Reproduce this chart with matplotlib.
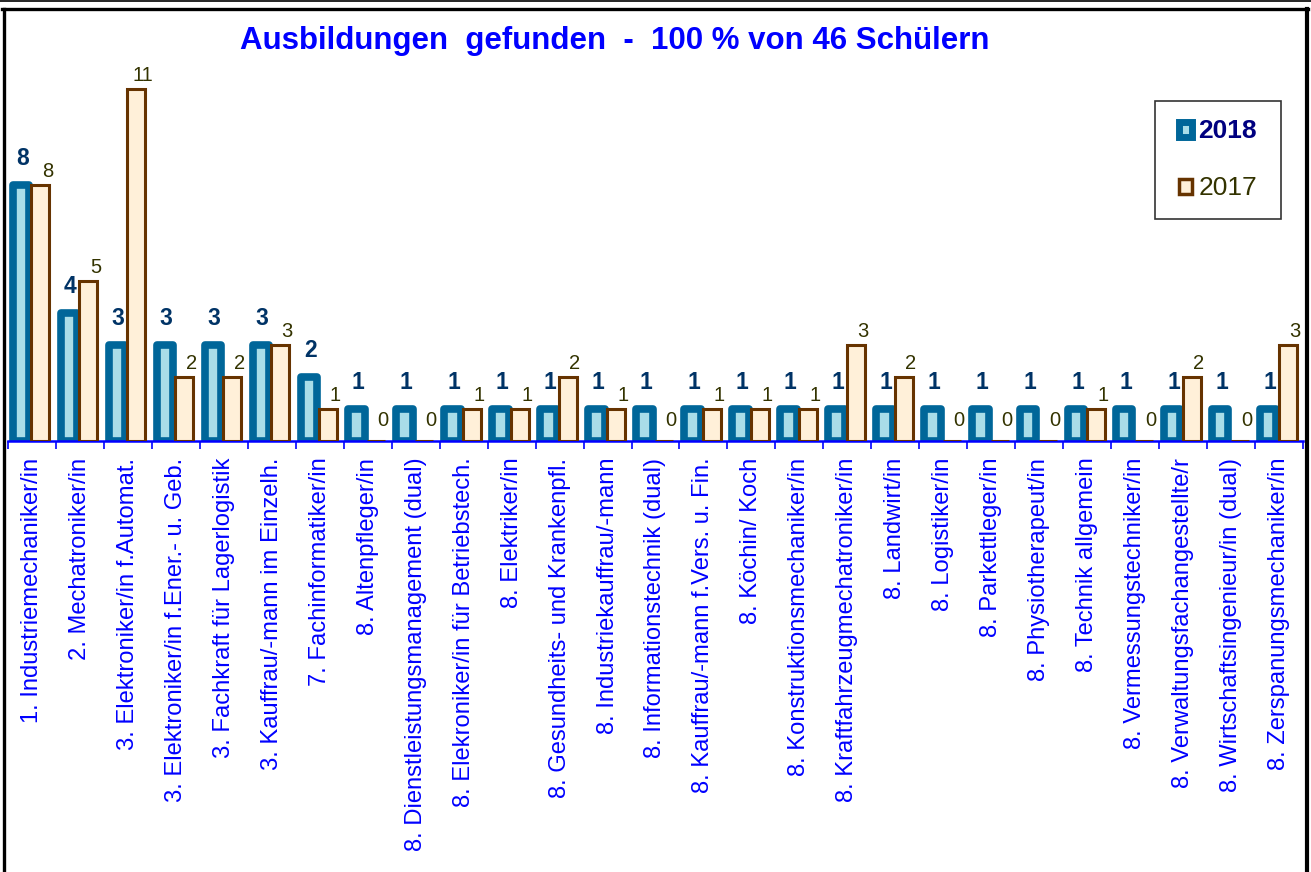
import matplotlib
matplotlib.use("Agg")
import matplotlib.pyplot as plt
from matplotlib.patches import Rectangle
from matplotlib.lines import Line2D
import numpy as np

plt.rcParams['font.family'] = ['Liberation Sans', 'DejaVu Sans']

categories = [
    "1. Industriemechaniker/in",
    "2. Mechatroniker/in",
    "3. Elektroniker/in f.Automat.",
    "3. Elektroniker/in f.Ener.- u. Geb.",
    "3. Fachkraft für Lagerlogistik",
    "3. Kauffrau/-mann im Einzelh.",
    "7. Fachinformatiker/in",
    "8. Altenpfleger/in",
    "8. Dienstleistungsmanagement (dual)",
    "8. Elekroniker/in für Betriebstech.",
    "8. Elektriker/in",
    "8. Gesundheits- und Krankenpfl.",
    "8. Industriekauffrau/-mann",
    "8. Informationstechnik (dual)",
    "8. Kauffrau/-mann f.Vers. u. Fin.",
    "8. Köchin/ Koch",
    "8. Konstruktionsmechaniker/in",
    "8. Kraftfahrzeugmechatroniker/in",
    "8. Landwirt/in",
    "8. Logistiker/in",
    "8. Parkettleger/in",
    "8. Physiotherapeut/in",
    "8. Technik allgemein",
    "8. Vermessungstechniker/in",
    "8. Verwaltungsfachangestellte/r",
    "8. Wirtschaftsingenieur/in (dual)",
    "8. Zerspanungsmechaniker/in",
]
values_2018 = [8, 4, 3, 3, 3, 3, 2, 1, 1, 1, 1, 1, 1, 1, 1, 1, 1, 1, 1, 1, 1, 1, 1, 1, 1, 1, 1]
values_2017 = [8, 5, 11, 2, 2, 3, 1, 0, 0, 1, 1, 2, 1, 0, 1, 1, 1, 3, 2, 0, 0, 0, 1, 0, 2, 0, 3]
title = "Ausbildungen  gefunden  -  100 % von 46 Schülern"
series_names = ["2018", "2017"]

W, H = 1311, 872
fig = plt.figure(figsize=(W / 100, H / 100), dpi=100)
fig.patch.set_facecolor('white')

ymax = 11.6
ax = fig.add_axes([8 / W, 1 - 441 / H, (1303 - 8) / W, (371) / H])
ax.set_xlim(-0.5, len(categories) - 0.5)
ax.set_ylim(0, ymax)

x = np.arange(len(categories))
c18_edge = '#006699'
c18_face = '#a9dde8'
c17_edge = '#663300'
c17_face = '#fff0d9'

off18, w18 = -0.229, 0.345
off17, w17 = 0.177, 0.375

ax.bar(x + off18, values_2018, width=w18, facecolor=c18_face, edgecolor=c18_edge,
       linewidth=5.5, joinstyle='round', zorder=2)
ax.bar(x + off17, values_2017, width=w17, facecolor=c17_face, edgecolor=c17_edge,
       linewidth=2.2, zorder=3)

for xi, v in zip(x, values_2018):
    ax.annotate(str(v), (xi + off18, v), xytext=(1, 11), textcoords='offset points',
                ha='center', va='bottom', fontsize=16.5, fontweight='bold', color='#003366', zorder=5)
for xi, v in zip(x, values_2017):
    dy = 3 if v > 0 else 8
    ax.annotate(str(v), (xi + off17, v), xytext=(5, dy), textcoords='offset points',
                ha='center', va='bottom', fontsize=14.5, color='#333300', zorder=5)

for s in ['top', 'right', 'left']:
    ax.spines[s].set_visible(False)
ax.spines['bottom'].set_color('#0000ff')
ax.spines['bottom'].set_linewidth(1.8)
ax.set_yticks([])
ax.set_xticks(x)
ax.set_xticklabels(categories, rotation=90, fontsize=17.1, color='#0000ff', va='top', ha='center')
ax.tick_params(axis='x', which='major', length=0, pad=12)
ax.set_xticks(np.arange(-0.5, len(categories), 1.0), minor=True)
ax.tick_params(axis='x', which='minor', length=6, width=1.2, color='#0000ff', direction='out')
ax.patch.set_visible(False)

fig.text(615 / W, 1 - 41 / H, title, ha='center', va='center', fontsize=22.5,
         fontweight='bold', color='#0000ff')

# legend
h18 = Rectangle((0, 0), 1, 1, facecolor=c18_face, edgecolor=c18_edge, linewidth=5, joinstyle='round')
h17 = Rectangle((0, 0), 1, 1, facecolor=c17_face, edgecolor=c17_edge, linewidth=2.5)
leg = fig.legend([h18, h17], series_names, loc='upper left',
                 bbox_to_anchor=(1155 / W, 1 - 101 / H), fontsize=19,
                 frameon=True, fancybox=False, edgecolor='black', handlelength=0.5,
                 handleheight=0.5, handletextpad=0.25, labelspacing=1.25,
                 borderpad=0.7, borderaxespad=0)
leg.get_frame().set_linewidth(1.2)
t18, t17 = leg.get_texts()
t18.set_color('#000080')
t18.set_fontweight('bold')
t17.set_color('#333300')
fig.canvas.draw()
bb = leg.get_window_extent()
leg.set_bbox_to_anchor((1155 / W + (1281 - 1155 - bb.width) / 2 / W * 0, 1 - 101 / H))
leg._legend_box.set_width(1281 - 1155 - 2 * 0.7 * 19 * 100 / 72)

# outer frame
lw = 2.4
fig.add_artist(Line2D([0, 1], [1 - 1 / H, 1 - 1 / H], transform=fig.transFigure, color='black', lw=1.2))
fig.add_artist(Line2D([2 / W, 1308 / W], [1 - 9 / H, 1 - 9 / H], transform=fig.transFigure, color='black', lw=lw))
fig.add_artist(Line2D([3.5 / W, 3.5 / W], [0, 1 - 9 / H], transform=fig.transFigure, color='black', lw=lw))
fig.add_artist(Line2D([1307 / W, 1307 / W], [0, 1 - 9 / H], transform=fig.transFigure, color='black', lw=3))

fig.savefig('out.png', dpi=100)
